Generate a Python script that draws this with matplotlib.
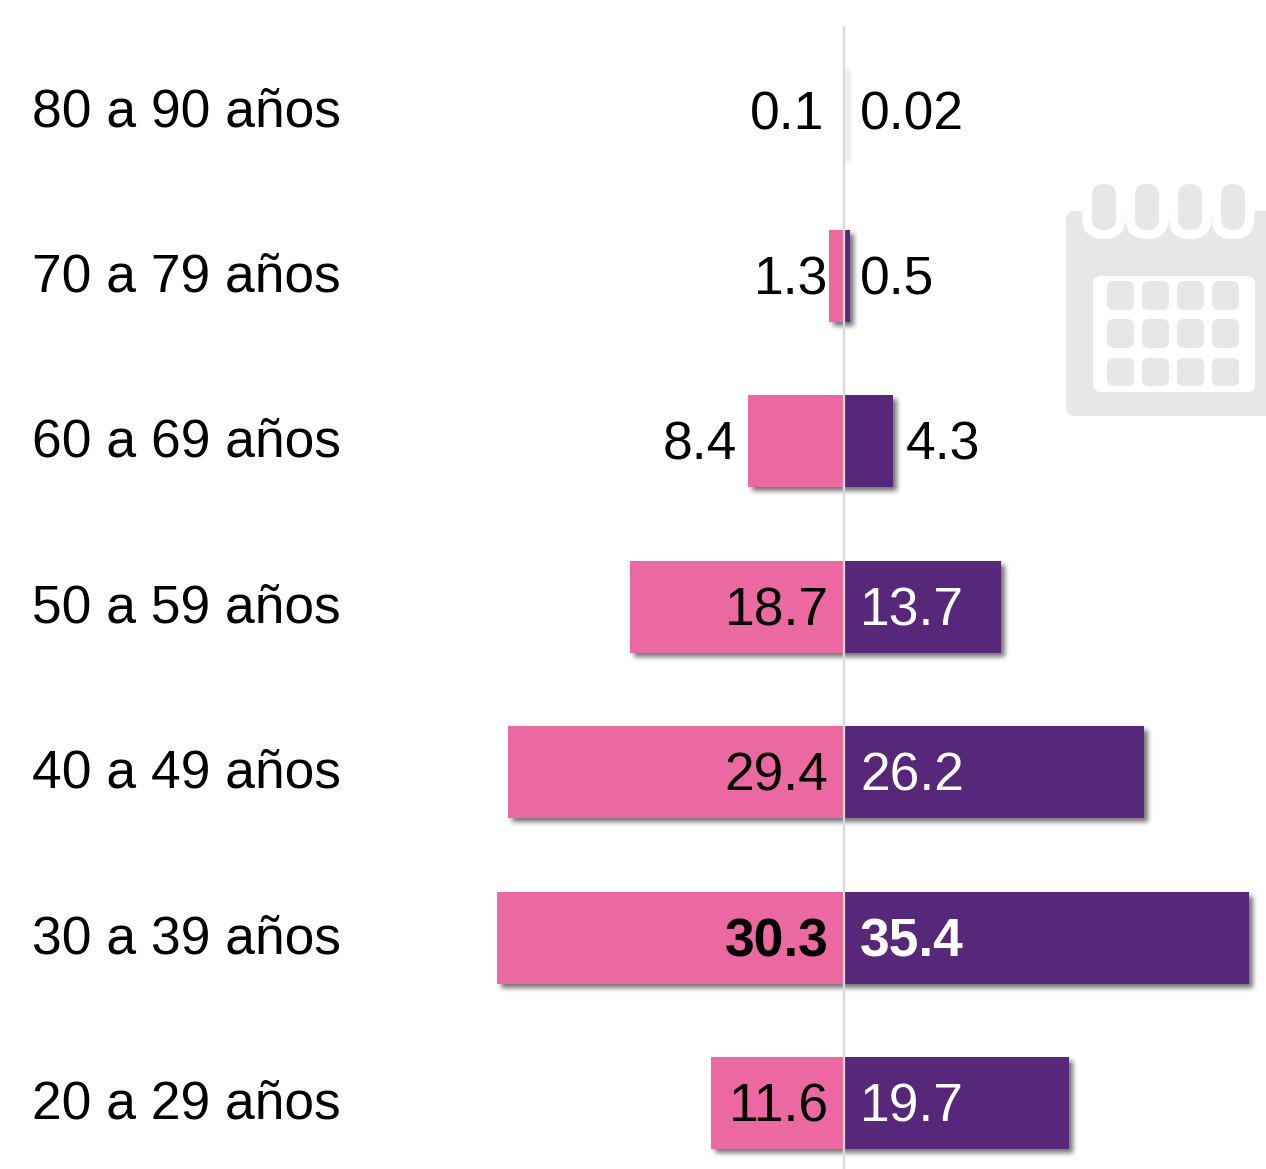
import matplotlib
matplotlib.use("Agg")
import matplotlib.pyplot as plt
import numpy as np
from matplotlib.patches import FancyBboxPatch, Rectangle

plt.rcParams['font.family'] = ['Liberation Sans', 'DejaVu Sans']

ages = ["20 a 29 años", "30 a 39 años", "40 a 49 años", "50 a 59 años",
        "60 a 69 años", "70 a 79 años", "80 a 90 años"]
mujeres = [11.6, 30.3, 29.4, 18.7, 8.4, 1.3, 0.1]
hombres = [19.7, 35.4, 26.2, 13.7, 4.3, 0.5, 0.02]
mujeres_txt = ["11.6", "30.3", "29.4", "18.7", "8.4", "1.3", "0.1"]
hombres_txt = ["19.7", "35.4", "26.2", "13.7", "4.3", "0.5", "0.02"]

PINK = "#ec68a1"
PURPLE = "#572879"
W, H = 1266, 1169
FS = 38.4
SX = 11.44   # px per unit
SY = 165.4   # px per row


def blur(img, dpi):
    # three box passes, close enough to a gaussian
    pad = 12
    a = np.pad(img, ((pad, pad), (pad, pad), (0, 0)))
    for n in (5, 5, 5):
        k = np.ones(n) / n
        a = np.apply_along_axis(lambda c: np.convolve(c, k, mode="same"), 0, a)
        a = np.apply_along_axis(lambda c: np.convolve(c, k, mode="same"), 1, a)
    return a, -pad, -pad


fig = plt.figure(figsize=(W / 100, H / 100), dpi=100)

# calendar icon, in pixel coordinates
ic = fig.add_axes([0, 0, 1, 1])
ic.set_xlim(0, W)
ic.set_ylim(H, 0)
ic.axis("off")
GREY = "#e7e7e7"


def rbox(x0, y0, x1, y1, r, color):
    ic.add_patch(FancyBboxPatch((x0 + r, y0 + r), x1 - x0 - 2 * r, y1 - y0 - 2 * r,
                                boxstyle="round,pad=%f,rounding_size=%f" % (r, r),
                                fc=color, ec="none", mutation_aspect=1))


rbox(1066, 211, 1300, 416, 9, GREY)
for cx in [1104, 1147, 1190, 1233]:
    rbox(cx - 21.5, 190, cx + 21.5, 239, 21, "white")
ic.add_patch(Rectangle((1083, 190), 172, 21, fc="white", ec="none"))
for cx in [1104, 1147, 1190, 1233]:
    rbox(cx - 12, 184, cx + 12, 230, 12, GREY)
rbox(1093, 276, 1255, 392, 8, "white")
for x0, x1 in [(1107, 1134), (1142, 1169), (1177, 1204), (1212, 1239)]:
    for y0, y1 in [(281, 310), (319, 348), (358, 386)]:
        rbox(x0, y0, x1, y1, 7, GREY)

# bars, zero at x=844
ax = fig.add_axes([0, 0, 1, 1])
ax.patch.set_alpha(0)
ax.set_xlim(-844 / SX, (W - 844) / SX)
ax.set_ylim(-(H - 1103) / SY, 1103 / SY)
ax.axis("off")

bar_h = 92 / SY
for i in range(len(ages)):
    left = -mujeres[i] + 4 / SX
    right = hombres[i] + 4 / SX
    s = ax.barh(i - 4 / SY, right - left, height=bar_h, left=left,
                color="#000000", alpha=0.55, linewidth=0, zorder=1)
    s[0].set_agg_filter(blur)

ax.barh(range(len(ages)), [-v for v in mujeres], height=bar_h, color=PINK, linewidth=0, zorder=2)
ax.barh(range(len(ages)), hombres, height=bar_h, color=PURPLE, linewidth=0, zorder=2)
ax.plot([0, 0], [ax.get_ylim()[0], (H - 27) / SY + ax.get_ylim()[0]], color="#d9d9d9", lw=1.6, zorder=3)

for i in range(len(ages)):
    ax.text(-844 / SX + 32 / SX, i + 4 / SY, ages[i], fontsize=FS, ha="left", va="center_baseline", color="black", zorder=5)

    w = "bold" if mujeres_txt[i] == "30.3" else "normal"
    x = -1.35
    if mujeres_txt[i] == "8.4":
        x = -mujeres[i] - 0.95
    elif mujeres_txt[i] == "0.1":
        x = -1.75
    ax.text(x, i + 1 / SY, mujeres_txt[i], fontsize=FS, ha="right", va="center_baseline", color="black", fontweight=w, zorder=5)

    x = 1.42
    col = "white"
    if hombres_txt[i] == "4.3":
        x = hombres[i] + 1.1
        col = "black"
    elif hombres_txt[i] in ("0.5", "0.02"):
        col = "black"
    w = "bold" if hombres_txt[i] == "35.4" else "normal"
    ax.text(x, i + 1 / SY, hombres_txt[i], fontsize=FS, ha="left", va="center_baseline", color=col, fontweight=w, zorder=5)

fig.savefig("out.png", dpi=100, facecolor="white")
